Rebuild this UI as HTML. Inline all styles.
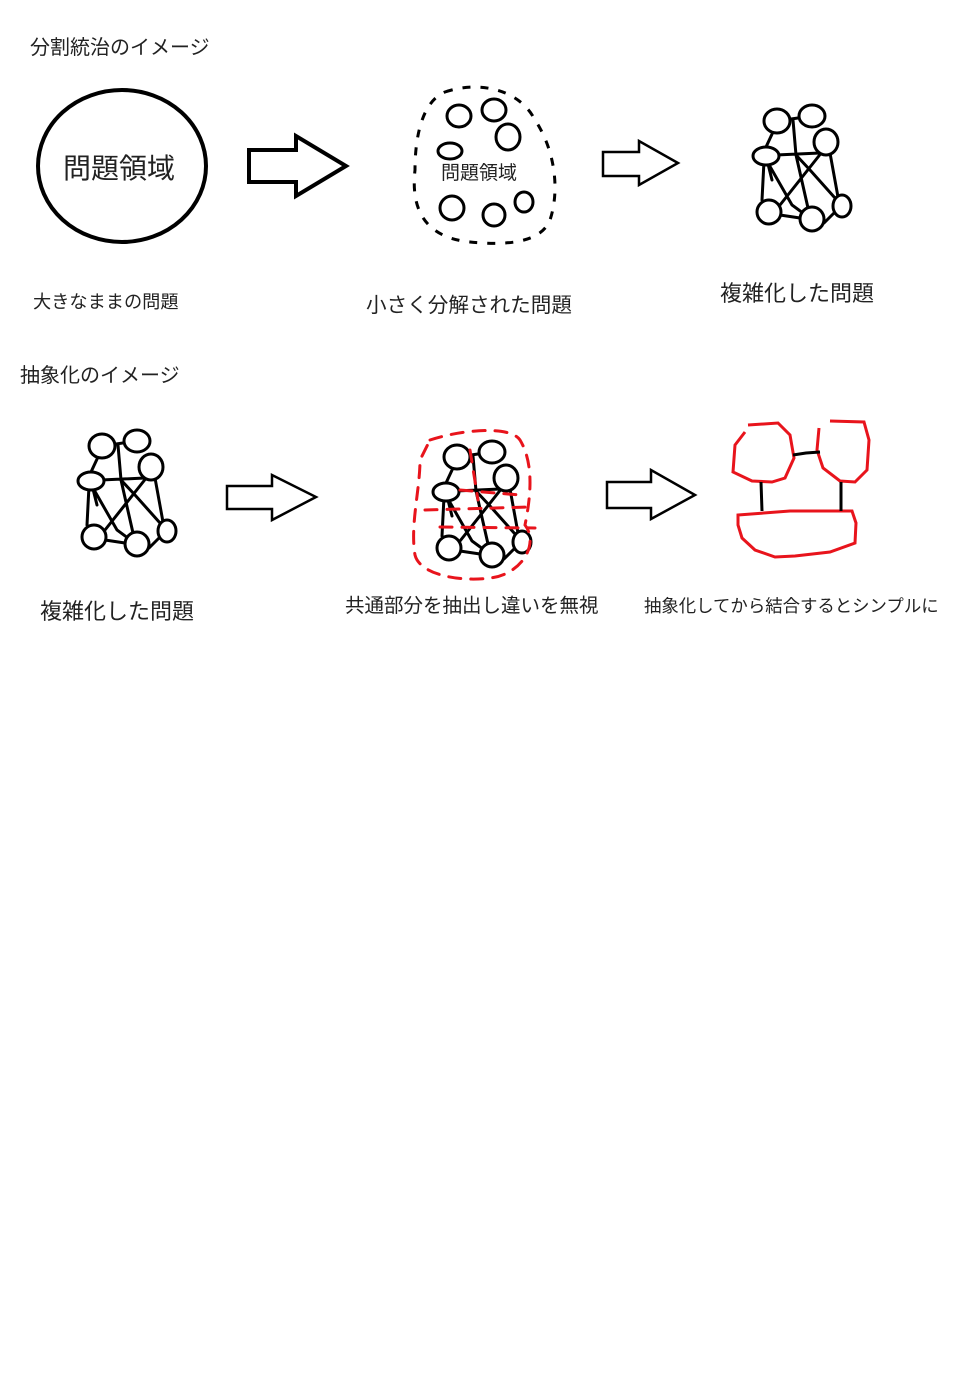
<!DOCTYPE html>
<html><head><meta charset="utf-8"><style>
html,body{margin:0;padding:0;background:#fff;}
body{width:960px;height:1392px;position:relative;overflow:hidden;font-family:"Liberation Sans","Noto Sans CJK JP",sans-serif;color:#222;}
.t{position:absolute;white-space:nowrap;line-height:1;}
svg{position:absolute;left:0;top:0;}
</style></head><body>
<svg width="960" height="1392" viewBox="0 0 960 1392">
<defs>
<g id="gr" fill="none" stroke="#000" stroke-width="3" stroke-linecap="round">
<path d="M37,26 L72,21 M33,37 L26,52 M53,25 L56,60 L68,113 M24,66 L22,105 M36,60 L80,58 M82,57 L40,110 M28,68 L52,110 L67,121 M40,120 L60,123 M56,60 L70,75 L95,103 M90,58 L98,102 M84,128 L94,118 M26,61 L32,85"/>
<ellipse cx="37" cy="26" rx="13" ry="12" fill="#fff"/>
<ellipse cx="72" cy="21" rx="13" ry="11" fill="#fff"/>
<ellipse cx="86" cy="47" rx="12" ry="13" fill="#fff"/>
<ellipse cx="26" cy="61" rx="13" ry="9" fill="#fff"/>
<ellipse cx="29" cy="117" rx="12" ry="12" fill="#fff"/>
<ellipse cx="72" cy="124" rx="12" ry="12" fill="#fff"/>
<ellipse cx="102" cy="111" rx="9" ry="11" fill="#fff"/>
</g>
</defs>
<ellipse cx="122" cy="166" rx="84" ry="76" fill="none" stroke="#000" stroke-width="4"/>
<g fill="#fff" stroke="#000" stroke-width="4"><path d="M249,150 L296,150 L296,136 L346,166 L296,196 L296,182 L249,182 Z"/></g>
<g fill="#fff" stroke="#000" stroke-width="2.5"><path d="M603,152 L639,152 L639,141 L678,163 L639,185 L639,176 L603,176 Z"/>
<path d="M227,486 L272,486 L272,475 L316,497 L272,520 L272,509 L227,509 Z"/>
<path d="M607,482 L651,482 L651,470 L695,495 L651,519 L651,508 L607,508 Z"/></g>
<path d="M445,92 C480,80 520,90 535,120 C555,150 560,190 550,220 C540,245 500,245 470,242 C430,238 410,215 415,170 C415,130 425,100 445,92 Z" fill="none" stroke="#000" stroke-width="3" stroke-dasharray="8 10"/>
<g fill="none" stroke="#000" stroke-width="3">
<ellipse cx="459" cy="116" rx="12" ry="11"/><ellipse cx="494" cy="110" rx="12" ry="11"/>
<ellipse cx="508" cy="137" rx="12" ry="13"/><ellipse cx="450" cy="151" rx="12" ry="8"/>
<ellipse cx="452" cy="208" rx="12" ry="12"/><ellipse cx="494" cy="215" rx="11" ry="11"/>
<ellipse cx="524" cy="202" rx="9" ry="10"/></g>
<use href="#gr" x="740" y="95"/>
<use href="#gr" x="65" y="420"/>
<use href="#gr" x="420" y="431"/>
<g fill="none" stroke="#e8141c" stroke-width="3" stroke-dasharray="12 10" stroke-linecap="round">
<path d="M430,440 C460,430 510,425 520,440 C535,465 530,500 525,525 C540,545 520,575 490,578 C460,582 420,575 415,555 C410,525 420,490 420,460 Z"/>
<path d="M425,510 L530,507 M440,527 L535,528 M470,450 L478,500 M460,490 L520,495"/>
</g>
<g fill="none" stroke="#e8141c" stroke-width="3">
<path d="M748,425 L778,423 L790,435 L794,458 L785,478 L772,482 L752,481 L733,472 L735,445 L745,432"/>
<path d="M830,421 L864,422 L869,440 L867,470 L855,482 L840,481 L823,468 L817,450 L819,428"/>
<path d="M738,515 L790,511 L852,511 L856,523 L855,543 L830,552 L795,556 L775,557 L755,550 L742,538 L738,525 Z"/>
</g>
<g fill="none" stroke="#000" stroke-width="3">
<path d="M793,455 L806,453 L820,452 M761,482 L762,511 M841,482 L841,511"/>
</g>
</svg>
<div class="t" style="left:30px;top:38px;font-size:20px;">分割統治のイメージ</div>
<div class="t" style="left:63px;top:155px;font-size:28px;">問題領域</div>
<div class="t" style="left:441px;top:164px;font-size:19px;">問題領域</div>
<div class="t" style="left:33px;top:293px;font-size:18.2px;">大きなままの問題</div>
<div class="t" style="left:366px;top:296px;font-size:20.6px;">小さく分解された問題</div>
<div class="t" style="left:720px;top:283px;font-size:22px;">複雑化した問題</div>
<div class="t" style="left:20px;top:366px;font-size:20px;">抽象化のイメージ</div>
<div class="t" style="left:40px;top:601px;font-size:22px;">複雑化した問題</div>
<div class="t" style="left:345px;top:597px;font-size:19.5px;">共通部分を抽出し違いを無視</div>
<div class="t" style="left:644px;top:598px;font-size:17.4px;">抽象化してから結合するとシンプルに</div>
</body></html>
